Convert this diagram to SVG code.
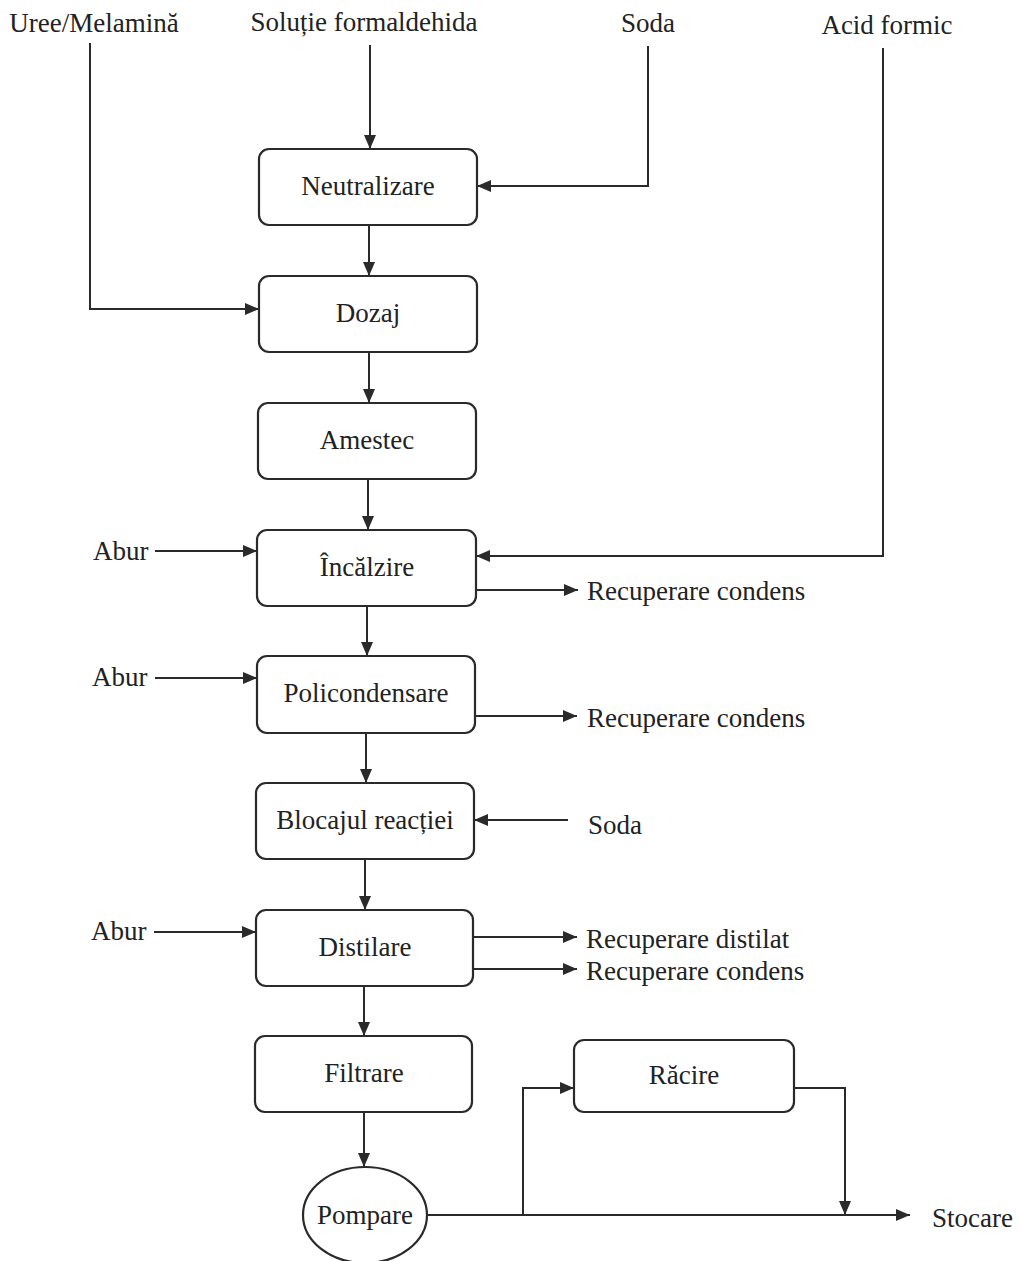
<svg xmlns="http://www.w3.org/2000/svg" width="1020" height="1261" viewBox="0 0 1020 1261">
<style>
.box{fill:#fff;stroke:#2a2a2a;stroke-width:2.2}
.ln{fill:none;stroke:#2a2a2a;stroke-width:2}
text{font-family:"Liberation Serif","Times New Roman",serif;font-size:27px;fill:#222}
.c{text-anchor:middle}
</style>
<defs>
<marker id="ar" viewBox="0 0 14 12" refX="14" refY="6" markerWidth="14" markerHeight="12" markerUnits="userSpaceOnUse" orient="auto">
<path d="M0,0 L14,6 L0,12 Z" fill="#2a2a2a"/>
</marker>
</defs>
<rect width="1020" height="1261" fill="#fff"/>
<g id="labels">
<text x="94" y="32" class="c">Uree/Melamină</text>
<text x="364" y="31" class="c">Soluție formaldehida</text>
<text x="648" y="32" class="c">Soda</text>
<text x="887" y="34" class="c">Acid formic</text>
<text x="93" y="560">Abur</text>
<text x="92" y="686">Abur</text>
<text x="91" y="940">Abur</text>
<text x="587" y="600">Recuperare condens</text>
<text x="587" y="727">Recuperare condens</text>
<text x="588" y="834">Soda</text>
<text x="586" y="948">Recuperare distilat</text>
<text x="586" y="980">Recuperare condens</text>
<text x="932" y="1227">Stocare</text>
</g>
<g id="connectors">
<line class="ln" x1="370" y1="45" x2="370" y2="149" marker-end="url(#ar)"/>
<polyline class="ln" points="648,46 648,186 477,186" marker-end="url(#ar)"/>
<line class="ln" x1="369" y1="225" x2="369" y2="276" marker-end="url(#ar)"/>
<polyline class="ln" points="90,43 90,309 259,309" marker-end="url(#ar)"/>
<line class="ln" x1="369" y1="352" x2="369" y2="403" marker-end="url(#ar)"/>
<line class="ln" x1="368" y1="479" x2="368" y2="530" marker-end="url(#ar)"/>
<polyline class="ln" points="883,48 883,556 476,556" marker-end="url(#ar)"/>
<line class="ln" x1="155" y1="551" x2="257" y2="551" marker-end="url(#ar)"/>
<line class="ln" x1="476" y1="590" x2="578" y2="590" marker-end="url(#ar)"/>
<line class="ln" x1="367" y1="606" x2="367" y2="656" marker-end="url(#ar)"/>
<line class="ln" x1="155" y1="678" x2="257" y2="678" marker-end="url(#ar)"/>
<line class="ln" x1="475" y1="716" x2="577" y2="716" marker-end="url(#ar)"/>
<line class="ln" x1="366" y1="733" x2="366" y2="783" marker-end="url(#ar)"/>
<line class="ln" x1="568" y1="820" x2="474" y2="820" marker-end="url(#ar)"/>
<line class="ln" x1="365" y1="859" x2="365" y2="910" marker-end="url(#ar)"/>
<line class="ln" x1="154" y1="932" x2="256" y2="932" marker-end="url(#ar)"/>
<line class="ln" x1="473" y1="937" x2="577" y2="937" marker-end="url(#ar)"/>
<line class="ln" x1="473" y1="969" x2="577" y2="969" marker-end="url(#ar)"/>
<line class="ln" x1="364" y1="986" x2="364" y2="1036" marker-end="url(#ar)"/>
<line class="ln" x1="364" y1="1112" x2="364" y2="1167" marker-end="url(#ar)"/>
<line class="ln" x1="427" y1="1215" x2="910" y2="1215" marker-end="url(#ar)"/>
<polyline class="ln" points="523,1215 523,1088 574,1088" marker-end="url(#ar)"/>
<polyline class="ln" points="794,1088 845,1088 845,1215" marker-end="url(#ar)"/>
</g>
<g id="n-neutralizare"><rect class="box" x="259" y="149" width="218" height="76" rx="10"/><text x="368" y="195" class="c">Neutralizare</text></g>
<g id="n-dozaj"><rect class="box" x="259" y="276" width="218" height="76" rx="10"/><text x="368" y="322" class="c">Dozaj</text></g>
<g id="n-amestec"><rect class="box" x="258" y="403" width="218" height="76" rx="10"/><text x="367" y="449" class="c">Amestec</text></g>
<g id="n-incalzire"><rect class="box" x="257" y="530" width="219" height="76" rx="10"/><text x="367" y="576" class="c">Încălzire</text></g>
<g id="n-policondensare"><rect class="box" x="257" y="656" width="218" height="77" rx="10"/><text x="366" y="702" class="c">Policondensare</text></g>
<g id="n-blocajul"><rect class="box" x="256" y="783" width="218" height="76" rx="10"/><text x="365" y="829" class="c">Blocajul reacției</text></g>
<g id="n-distilare"><rect class="box" x="256" y="910" width="217" height="76" rx="10"/><text x="365" y="956" class="c">Distilare</text></g>
<g id="n-filtrare"><rect class="box" x="255" y="1036" width="217" height="76" rx="10"/><text x="364" y="1082" class="c">Filtrare</text></g>
<g id="n-racire"><rect class="box" x="574" y="1040" width="220" height="72" rx="10"/><text x="684" y="1084" class="c">Răcire</text></g>
<g id="n-pompare"><ellipse class="box" cx="365" cy="1215" rx="62" ry="48"/><text x="365" y="1224" class="c">Pompare</text></g>
</svg>
